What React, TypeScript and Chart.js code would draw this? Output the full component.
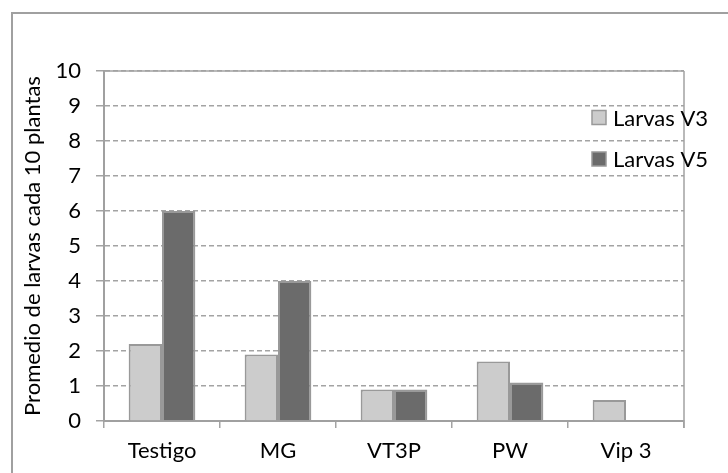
import React, { useEffect, useRef } from "react";
import { Chart, registerables } from "chart.js";

Chart.register(...registerables);

const categories = ["Testigo", "MG", "VT3P", "PW", "Vip 3"];
const larvasV3 = [2.2, 1.9, 0.9, 1.7, 0.6];
const larvasV5 = [6.0, 4.0, 0.9, 1.1, 0];
const seriesLabels = ["Larvas V3", "Larvas V5"];
const yTitle = "Promedio de larvas cada 10 plantas";
const yMin = 0;
const yMax = 10;
const yStep = 1;

const FONT = "Lato";
const FS = 22;
const GRID = "#a3a3a3";

const framePlugin = {
  id: "frame",
  beforeDraw(chart: any) {
    const { ctx } = chart;
    ctx.save();
    ctx.strokeStyle = "#a0a0a0";
    ctx.lineWidth = 2;
    ctx.strokeRect(12, 13, 900, 700);
    ctx.restore();
  },
  afterDatasetsDraw(chart: any) {
    const { ctx, chartArea } = chart;
    ctx.save();
    ctx.strokeStyle = GRID;
    ctx.lineWidth = 1.5;
    ctx.beginPath();
    ctx.moveTo(chartArea.left, chartArea.top);
    ctx.lineTo(chartArea.right, chartArea.top);
    ctx.moveTo(chartArea.right, chartArea.top);
    ctx.lineTo(chartArea.right, chartArea.bottom + 7);
    ctx.stroke();
    // legend
    const ds = chart.data.datasets;
    const offsets = [46.5, 88];
    ds.forEach((d: any, i: number) => {
      const cy = chartArea.top + offsets[i];
      const x = chartArea.right - 92;
      ctx.fillStyle = d.backgroundColor;
      ctx.strokeStyle = "#999999";
      ctx.lineWidth = 1.5;
      ctx.fillRect(x, cy - 7, 14, 14);
      ctx.strokeRect(x, cy - 7, 14, 14);
      ctx.fillStyle = "#000";
      ctx.font = `${FS}px ${FONT}`;
      ctx.textBaseline = "middle";
      ctx.textAlign = "left";
      ctx.fillText(d.label, x + 21, cy + 1);
    });
    ctx.restore();
  },
};

export default function App() {
  const ref = useRef<HTMLCanvasElement | null>(null);
  useEffect(() => {
    if (!ref.current) return;
    const chart = new Chart(ref.current, {
      type: "bar",
      data: {
        labels: categories,
        datasets: [
          {
            label: seriesLabels[0],
            data: larvasV3,
            backgroundColor: "#cccccc",
            borderColor: "#999999",
            borderWidth: 2,
          },
          {
            label: seriesLabels[1],
            data: larvasV5,
            backgroundColor: "#6b6b6b",
            borderColor: "#999999",
            borderWidth: 2,
          },
        ],
      },
      plugins: [framePlugin],
      options: {
        responsive: false,
        animation: false,
        events: [],
        layout: { padding: { left: 0, top: 71, right: 44, bottom: 0 } },
        datasets: { bar: { categoryPercentage: 0.575, barPercentage: 1 } },
        plugins: { legend: { display: false }, tooltip: { enabled: false } },
        scales: {
          x: {
            offset: true,
            grid: {
              offset: true,
              drawOnChartArea: false,
              drawTicks: true,
              tickLength: 7,
              color: GRID,
              lineWidth: 1.5,
            },
            border: { color: "#a0a0a0", width: 2 },
            ticks: {
              color: "#000",
              font: { family: FONT, size: FS },
              padding: 10,
            },
            afterFit: (s: any) => {
              s.height = 52;
            },
          },
          y: {
            min: yMin,
            max: yMax,
            ticks: {
              stepSize: yStep,
              color: "#000",
              font: { family: FONT, size: FS },
              padding: 15,
            },
            grid: {
              color: GRID,
              lineWidth: 1.5,
              tickLength: 8,
              tickBorderDash: [],
            },
            border: { color: "#a0a0a0", width: 2, dash: [5, 3] },
            title: {
              display: true,
              text: yTitle,
              color: "#000",
              font: { family: FONT, size: FS },
              padding: { top: 20, bottom: 0 },
            },
            afterFit: (s: any) => {
              s.width = 104;
            },
          },
        },
      },
    });
    return () => chart.destroy();
  }, []);
  return (
    <div style={{ position: "absolute", left: 0, top: 0, width: 728, height: 473, background: "#fff" }}>
      <canvas ref={ref} width={728} height={473} style={{ width: 728, height: 473, display: "block" }} />
    </div>
  );
}
